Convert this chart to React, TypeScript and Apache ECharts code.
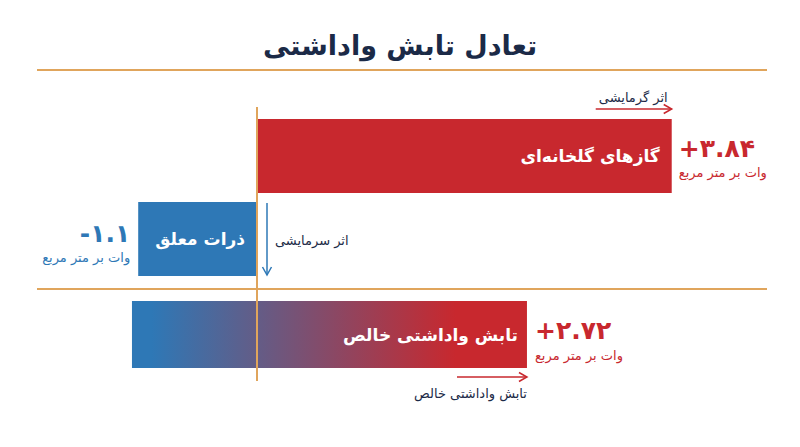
import React, { useEffect, useRef } from 'react';
import * as echarts from 'echarts';

const chartTitle = 'تعادل تابش واداشتی';
const categories = ['گازهای گلخانه\u200cای', 'ذرات معلق'];
const forcingValues = [3.84, -1.1];
const netCategory = ['تابش واداشتی خالص'];
const netRange = [-1.1, 2.72];
const unitLabel = 'وات بر متر مربع';
const warmingLabel = 'اثر گرمایشی';
const coolingLabel = 'اثر سرمایشی';

const FONT = '"DejaVu Sans", sans-serif';
const RED = '#c8282e';
const BLUE = '#2e78b6';
const ORANGE = '#e0a55c';
const NAVY = '#1b2a47';

const faDigits = '۰۱۲۳۴۵۶۷۸۹';
const toFa = (v: number) => {
  const s = Math.abs(v).toString().replace(/\d/g, (d) => faDigits[+d]);
  return (v < 0 ? '-' : '+') + s;
};

const txt = (text: string, x: number, y: number, opts: any) => ({
  type: 'text',
  style: {
    text,
    x,
    y,
    fontFamily: FONT,
    align: opts.align,
    textAlign: opts.align,
    verticalAlign: 'middle',
    textVerticalAlign: 'middle',
    fontSize: opts.size,
    fontWeight: opts.weight || 'normal',
    fill: opts.color,
  },
});

const arrowRight = (x1: number, x2: number, y: number, color: string) => [
  { type: 'line', shape: { x1, y1: y, x2, y2: y }, style: { stroke: color, lineWidth: 1.5 } },
  {
    type: 'polyline',
    shape: { points: [[x2 - 8, y - 4.5], [x2, y], [x2 - 8, y + 4.5]] },
    style: { stroke: color, lineWidth: 1.5, fill: 'none' },
  },
];

const App: React.FC = () => {
  const chartRef = useRef<HTMLDivElement>(null);

  useEffect(() => {
    if (!chartRef.current) return;
    const chart = echarts.init(chartRef.current, undefined, { renderer: 'svg' });

    const renderForcing = (params: any, api: any) => {
      const v = api.value(0);
      const cat = api.value(1);
      const p0 = api.coord([0, cat]);
      const p1 = api.coord([v, cat]);
      const h = 74;
      const top = p0[1] - h / 2;
      const bottom = top + h;
      const left = Math.min(p0[0], p1[0]);
      const right = Math.max(p0[0], p1[0]);
      const pos = v >= 0;
      const color = pos ? RED : BLUE;
      const children: any[] = [
        { type: 'rect', shape: { x: left, y: top, width: right - left, height: h }, style: { fill: color } },
        txt(categories[params.dataIndex], right - 12, top + h / 2, { align: 'right', size: 17, weight: 'bold', color: '#fff' }),
      ];
      if (pos) {
        children.push(
          txt(toFa(v), right + 7, top + 29, { align: 'left', size: 25, weight: 'bold', color }),
          txt(unitLabel, right + 7, top + 53, { align: 'left', size: 13, color }),
          ...arrowRight(right - 76, right, top - 10, color),
          txt(warmingLabel, right - 4, top - 22, { align: 'right', size: 13, color: NAVY }),
        );
      } else {
        const ax = p0[0] + 10;
        children.push(
          txt(toFa(v), left - 8, top + 31, { align: 'right', size: 25, weight: 'bold', color }),
          txt(unitLabel, left - 8, top + 55, { align: 'right', size: 13, color }),
          { type: 'line', shape: { x1: ax, y1: top + 1, x2: ax, y2: bottom - 1 }, style: { stroke: color, lineWidth: 1.5 } },
          {
            type: 'polyline',
            shape: { points: [[ax - 4.5, bottom - 9], [ax, bottom - 1], [ax + 4.5, bottom - 9]] },
            style: { stroke: color, lineWidth: 1.5, fill: 'none' },
          },
          txt(coolingLabel, ax + 8, top + 38, { align: 'left', size: 13, color: NAVY }),
        );
      }
      return { type: 'group', children };
    };

    const renderNet = (params: any, api: any) => {
      const s = api.value(0);
      const e = api.value(1);
      const cat = api.value(2);
      const p0 = api.coord([s, cat]);
      const p1 = api.coord([e, cat]);
      const h = 67;
      const top = p0[1] - h / 2;
      const bottom = top + h;
      return {
        type: 'group',
        children: [
          {
            type: 'rect',
            shape: { x: p0[0], y: top, width: p1[0] - p0[0], height: h },
            style: {
              fill: new echarts.graphic.LinearGradient(0, 0, 1, 0, [
                { offset: 0.05, color: BLUE },
                { offset: 0.82, color: RED },
                { offset: 1, color: RED },
              ]),
            },
          },
          txt(netCategory[params.dataIndex], p1[0] - 9, top + h / 2, { align: 'right', size: 17, weight: 'bold', color: '#fff' }),
          txt(toFa(e), p1[0] + 8, top + 29, { align: 'left', size: 25, weight: 'bold', color: RED }),
          txt(unitLabel, p1[0] + 8, top + 54, { align: 'left', size: 13, color: RED }),
          ...arrowRight(p1[0] - 70, p1[0], bottom + 9, RED),
          txt(netCategory[params.dataIndex], p1[0], bottom + 25, { align: 'right', size: 13, color: NAVY }),
        ],
      };
    };

    const option: any = {
      animation: false,
      backgroundColor: '#fff',
      title: {
        text: chartTitle,
        left: 'center',
        top: 27,
        textStyle: { fontFamily: FONT, fontSize: 27, fontWeight: 'bold', color: NAVY },
      },
      grid: [
        { left: 41, right: 35.4, top: 114.5, height: 166 },
        { left: 38.9, right: 68.3, top: 301, height: 67 },
      ],
      xAxis: [
        { type: 'value', gridIndex: 0, min: -2, max: 4.7, show: false },
        { type: 'value', gridIndex: 1, min: -2, max: 4.7, show: false },
      ],
      yAxis: [
        { type: 'category', gridIndex: 0, data: categories, inverse: true, show: false },
        { type: 'category', gridIndex: 1, data: netCategory, show: false },
      ],
      series: [
        {
          type: 'custom',
          xAxisIndex: 0,
          yAxisIndex: 0,
          renderItem: renderForcing,
          encode: { x: 0, y: 1 },
          data: forcingValues.map((v, i) => [v, i]),
          clip: false,
        },
        {
          type: 'custom',
          xAxisIndex: 1,
          yAxisIndex: 1,
          renderItem: renderNet,
          encode: { x: [0, 1], y: 2 },
          data: [[netRange[0], netRange[1], 0]],
          clip: false,
        },
      ],
    };

    chart.setOption(option);
    const x0 = chart.convertToPixel({ xAxisIndex: 0 }, 0) as number;
    chart.setOption({
      graphic: [
        { type: 'line', z: 100, shape: { x1: 37, y1: 70, x2: 767, y2: 70 }, style: { stroke: ORANGE, lineWidth: 2 } },
        { type: 'line', z: 100, shape: { x1: 37, y1: 289, x2: 767, y2: 289 }, style: { stroke: ORANGE, lineWidth: 2 } },
        { type: 'line', z: 100, shape: { x1: x0, y1: 107, x2: x0, y2: 381 }, style: { stroke: ORANGE, lineWidth: 2 } },
      ],
    });

    return () => chart.dispose();
  }, []);

  return (
    <div
      ref={chartRef}
      style={{ position: 'fixed', left: 0, top: 0, width: 800, height: 447, background: '#fff' }}
    />
  );
};

export default App;
